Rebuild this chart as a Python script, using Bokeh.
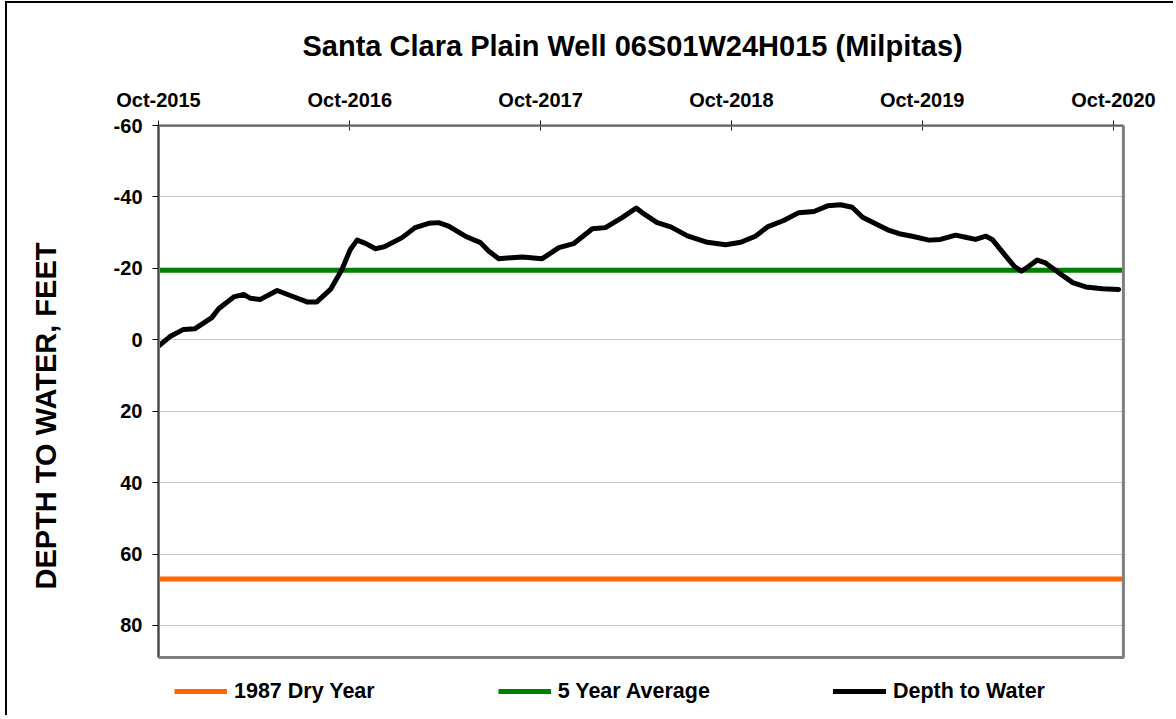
from datetime import datetime

from bokeh.plotting import figure
from bokeh.models import (Range1d, FixedTicker, DatetimeTickFormatter, Legend,
                          LegendItem, BoxAnnotation)
from bokeh.embed import file_html
from bokeh.resources import INLINE

# ---------------- data ----------------
TITLE = "Santa Clara Plain Well 06S01W24H015 (Milpitas)"
Y_LABEL = "DEPTH TO WATER, FEET"
LEGEND_DRY = "1987 Dry Year"
LEGEND_AVG = "5 Year Average"
LEGEND_DTW = "Depth to Water"

measure_dates = [
    "2015-10-01", "2015-10-23", "2015-11-18", "2015-12-10", "2016-01-11", "2016-01-24",
    "2016-02-22", "2016-03-12", "2016-03-25", "2016-04-13", "2016-05-15", "2016-06-09",
    "2016-07-11", "2016-07-30", "2016-08-25", "2016-09-16", "2016-10-02", "2016-10-15",
    "2016-10-31", "2016-11-19", "2016-12-05", "2017-01-09", "2017-02-03", "2017-03-01",
    "2017-03-20", "2017-04-08", "2017-05-10", "2017-06-08", "2017-06-24", "2017-07-13",
    "2017-08-27", "2017-10-04", "2017-11-05", "2017-12-03", "2018-01-08", "2018-02-02",
    "2018-03-06", "2018-04-02", "2018-04-16", "2018-05-12", "2018-06-07", "2018-07-09",
    "2018-08-16", "2018-09-20", "2018-10-19", "2018-11-16", "2018-12-09", "2019-01-09",
    "2019-02-07", "2019-03-08", "2019-04-03", "2019-04-28", "2019-05-20", "2019-06-09",
    "2019-07-01", "2019-07-27", "2019-08-18", "2019-09-12", "2019-10-14", "2019-11-05",
    "2019-12-04", "2019-12-23", "2020-01-11", "2020-01-31", "2020-02-12", "2020-03-09",
    "2020-03-25", "2020-04-08", "2020-04-22", "2020-05-08", "2020-05-24", "2020-06-19",
    "2020-07-15", "2020-08-09", "2020-09-10", "2020-10-11",
]
depth_to_water = [
    1.8, -0.9, -2.9, -3.1, -6.2, -8.7,
    -12.0, -12.7, -11.6, -11.3, -13.8, -12.4,
    -10.6, -10.6, -14.1, -19.7, -25.3, -27.9,
    -27.0, -25.5, -26.0, -28.6, -31.4, -32.6,
    -32.8, -31.8, -29.0, -27.2, -24.8, -22.7,
    -23.2, -22.7, -25.8, -26.9, -31.1, -31.4,
    -34.2, -36.9, -35.3, -32.8, -31.6, -29.1,
    -27.3, -26.6, -27.3, -29.0, -31.6, -33.4,
    -35.6, -35.9, -37.5, -37.8, -37.1, -34.3,
    -32.7, -30.8, -29.7, -29.0, -27.9, -28.1,
    -29.3, -28.7, -28.1, -29.0, -28.1, -23.4,
    -20.6, -19.2, -20.6, -22.3, -21.5, -18.7,
    -16.0, -14.8, -14.3, -14.1,
]
five_year_average = -19.5
dry_year_1987 = 67.0

x_tick_dates = ["2015-10-01", "2016-10-01", "2017-10-01", "2018-10-01",
                "2019-10-01", "2020-10-01"]
y_ticks = [-60, -40, -20, 0, 20, 40, 60, 80]
x_start, x_end = "2015-10-01", "2020-10-20"   # plot-area extent
y_top, y_bottom = -60, 89                      # plot-area extent
x_view_end = "2020-10-24"                      # frame slightly wider than plot area
y_view_bottom = 102.7                          # frame extends below plot area to hold legend

# ---------------- helpers ----------------
def d(s):
    return datetime.strptime(s, "%Y-%m-%d")

def ms(s):
    return (d(s) - datetime(1970, 1, 1)).total_seconds() * 1000.0

FONT = "Liberation Sans"
INK = "black"

x = [d(s) for s in measure_dates]
x_span = [d(x_start), d(x_end)]

p = figure(width=1168, height=714,
           x_axis_type="datetime", x_axis_location="above",
           x_range=Range1d(d(x_start), d(x_view_end)),
           y_range=Range1d(y_view_bottom, y_top),
           output_backend="svg", toolbar_location=None,
           min_border_left=151, min_border_right=50,
           min_border_top=120, min_border_bottom=11)

# outer chart-area border (left and top edges are visible in the reference)
p.styles = {"margin-left": "5px", "margin-top": "1px",
            "border-left": "2px solid black", "border-top": "2px solid black"}

p.background_fill_color = "white"
p.border_fill_color = "white"
p.outline_line_color = None

# title
p.title.text = TITLE
p.title.text_font = FONT
p.title.text_font_style = "bold"
p.title.text_font_size = "29px"
p.title.text_color = INK
p.title.align = "left"
p.title.offset = 144
p.title.standoff = 48

# top (x) axis
xa = p.xaxis[0]
xa.ticker = FixedTicker(ticks=[ms(s) for s in x_tick_dates])
fmt = "%b-%Y"
xa.formatter = DatetimeTickFormatter(microseconds=fmt, milliseconds=fmt, seconds=fmt,
                                     minsec=fmt, minutes=fmt, hourmin=fmt, hours=fmt,
                                     days=fmt, months=fmt, years=fmt)
xa.bounds = (ms(x_start), ms(x_end))
xa.axis_line_color = "#505050"
xa.axis_line_width = 2
xa.major_tick_line_color = "#202020"
xa.major_tick_in = 5
xa.major_tick_out = 5
xa.minor_tick_line_color = None
xa.major_label_text_font = FONT
xa.major_label_text_font_style = "bold"
xa.major_label_text_font_size = "20px"
xa.major_label_text_color = INK
xa.major_label_standoff = 10

# left (y) axis
ya = p.yaxis[0]
ya.ticker = FixedTicker(ticks=y_ticks)
ya.major_label_overrides = {t: str(t) for t in y_ticks}
ya.bounds = (y_top, y_bottom)
ya.axis_line_color = INK
ya.axis_line_width = 2
ya.major_tick_line_color = INK
ya.major_tick_in = 0
ya.major_tick_out = 6
ya.minor_tick_line_color = None
ya.major_label_text_font = FONT
ya.major_label_text_font_style = "bold"
ya.major_label_text_font_size = "20px"
ya.major_label_text_color = INK
ya.major_label_standoff = 10
ya.axis_label = Y_LABEL
ya.axis_label_text_font = FONT
ya.axis_label_text_font_style = "bold"
ya.axis_label_text_font_size = "29px"
ya.axis_label_text_color = INK
ya.axis_label_standoff = 49

p.xgrid.visible = False
p.ygrid.grid_line_color = "#8c8c8c"
p.ygrid.grid_line_dash = "1 1"
p.ygrid.grid_line_width = 1

# plot-area border (grey right / bottom edges)
p.add_layout(BoxAnnotation(left=ms(x_start), right=ms(x_end), top=y_top, bottom=y_bottom,
                           fill_color=None, fill_alpha=0,
                           line_color="#808080", line_alpha=1.0, line_width=3))

# series
r_dry = p.line(x_span, [dry_year_1987, dry_year_1987], line_color="#FF6600",
               line_width=5, line_cap="butt")
r_avg = p.line(x_span, [five_year_average, five_year_average], line_color="#008000",
               line_width=5, line_cap="butt")
r_dtw = p.line(x, depth_to_water, line_color="black", line_width=5,
               line_join="round", line_cap="round")

legend = Legend(items=[LegendItem(label=LEGEND_DRY, renderers=[r_dry]),
                       LegendItem(label=LEGEND_AVG, renderers=[r_avg]),
                       LegendItem(label=LEGEND_DTW, renderers=[r_dtw])],
                orientation="horizontal", location=(16, 1),
                glyph_width=53, glyph_height=28, label_height=28,
                label_standoff=7, spacing=123,
                padding=0, margin=0, border_line_color=None,
                background_fill_alpha=0,
                label_text_font=FONT, label_text_font_style="bold",
                label_text_font_size="21.5px", label_text_color=INK)
p.add_layout(legend)

open("out.html", "w").write(file_html(p, INLINE))
